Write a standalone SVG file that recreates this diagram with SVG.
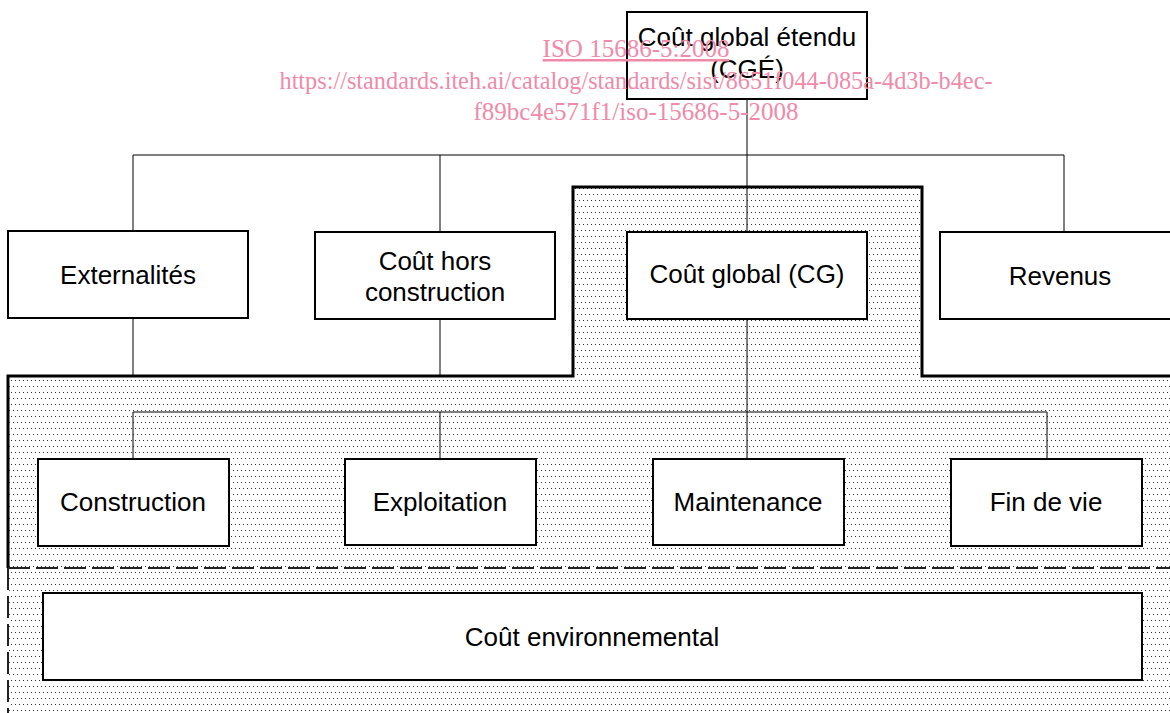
<svg xmlns="http://www.w3.org/2000/svg" width="1170" height="713" viewBox="0 0 1170 713">
<style>
.box{fill:#fff;stroke:#000;stroke-width:2}
.lbl{font-family:"Liberation Sans",Arial,sans-serif;font-size:26px;fill:#000;text-anchor:middle}
.conn{stroke:#000;stroke-width:1;fill:none}
.wm{font-family:"Liberation Serif","Times New Roman",serif;font-size:25px;fill:#f08aa8;text-anchor:middle}
</style>
<defs>
<pattern id="dots" x="0" y="0" width="4" height="12" patternUnits="userSpaceOnUse">
<rect x="1" y="2" width="1" height="1" fill="#333"/>
<rect x="3" y="8" width="1" height="1" fill="#333"/>
</pattern>
</defs>
<rect width="1170" height="713" fill="#fff"/>
<g id="zone">
<path d="M8,376 H573 V187 H922 V376 H1170 V713 H8 Z" fill="url(#dots)"/>
<path d="M8,568 V376 H573 V187 H922 V376 H1170" fill="none" stroke="#000" stroke-width="3"/>
<line x1="8" y1="568" x2="1170" y2="568" stroke="#222" stroke-width="2" stroke-dasharray="22 6"/>
<line x1="8" y1="568" x2="8" y2="713" stroke="#222" stroke-width="2" stroke-dasharray="22 6"/>
</g>
<g id="connectors">
<line class="conn" x1="747" y1="99" x2="747" y2="232"/>
<line class="conn" x1="133" y1="155" x2="1064" y2="155"/>
<line class="conn" x1="133" y1="155" x2="133" y2="231"/>
<line class="conn" x1="440" y1="155" x2="440" y2="232"/>
<line class="conn" x1="1064" y1="155" x2="1064" y2="232"/>
<line class="conn" x1="133" y1="318" x2="133" y2="376"/>
<line class="conn" x1="440" y1="319" x2="440" y2="376"/>
<line class="conn" x1="747" y1="319" x2="747" y2="459"/>
<line class="conn" x1="133" y1="412" x2="1047" y2="412"/>
<line class="conn" x1="133" y1="412" x2="133" y2="459"/>
<line class="conn" x1="440" y1="412" x2="440" y2="459"/>
<line class="conn" x1="1047" y1="412" x2="1047" y2="459"/>
</g>
<g id="cge"><rect class="box" x="627" y="12" width="240" height="87"/><text class="lbl" x="747" y="46">Coût global étendu</text><text class="lbl" x="747" y="78">(CGÉ)</text></g>
<g id="externalites"><rect class="box" x="8" y="231" width="240" height="87"/><text class="lbl" x="128" y="284">Externalités</text></g>
<g id="hors"><rect class="box" x="315" y="232" width="240" height="87"/><text class="lbl" x="435" y="270">Coût hors</text><text class="lbl" x="435" y="301">construction</text></g>
<g id="cg"><rect class="box" x="627" y="232" width="240" height="87"/><text class="lbl" x="747" y="283">Coût global (CG)</text></g>
<g id="revenus"><rect class="box" x="940" y="232" width="240" height="87"/><text class="lbl" x="1060" y="285">Revenus</text></g>
<g id="construction"><rect class="box" x="38" y="459" width="191" height="87"/><text class="lbl" x="133" y="511">Construction</text></g>
<g id="exploitation"><rect class="box" x="345" y="459" width="191" height="86"/><text class="lbl" x="440" y="511">Exploitation</text></g>
<g id="maintenance"><rect class="box" x="653" y="459" width="191" height="86"/><text class="lbl" x="748" y="511">Maintenance</text></g>
<g id="findevie"><rect class="box" x="951" y="459" width="191" height="87"/><text class="lbl" x="1046" y="511">Fin de vie</text></g>
<g id="environnemental"><rect class="box" x="43" y="593" width="1099" height="87"/><text class="lbl" x="592" y="646">Coût environnemental</text></g>
<g id="watermark">
<text class="wm" x="636" y="57" text-decoration="underline">ISO 15686-5:2008</text>
<text class="wm" x="636" y="89" textLength="713" lengthAdjust="spacingAndGlyphs">https://standards.iteh.ai/catalog/standards/sist/8651f044-085a-4d3b-b4ec-</text>
<text class="wm" x="636" y="120">f89bc4e571f1/iso-15686-5-2008</text>
</g>
</svg>
